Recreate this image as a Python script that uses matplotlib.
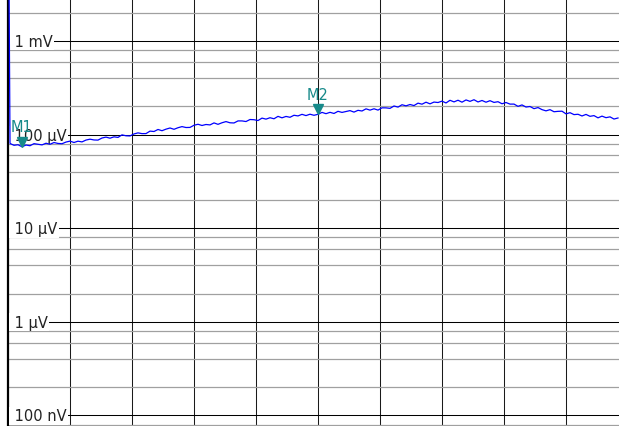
import numpy as np
import matplotlib.pyplot as plt
import matplotlib.transforms as mtransforms
from matplotlib.ticker import LogLocator, NullFormatter

# sweep trace in uV (first sample is off the top of the screen)
start_uv = 10000.0
trace_uv = [
    80.5, 76.9, 78.0, 74.2, 77.4, 76.1, 80.1, 78.9, 77.7, 80.9,
    78.9, 82.3, 80.5, 79.9, 83.3, 85.2, 82.4, 85.1, 83.6, 87.5,
    89.4, 87.7, 87.4, 92.0, 94.1, 91.6, 94.7, 93.4, 99.4, 97.2,
    96.8, 101.7, 104.4, 102.5, 102.6, 109.0, 108.0, 113.5, 110.1, 114.4,
    117.7, 114.0, 118.5, 121.8, 119.1, 119.4, 125.9, 129.0, 125.2, 128.3,
    127.0, 133.4, 128.8, 133.9, 137.8, 133.8, 133.2, 140.1, 140.1, 138.0,
    145.0, 144.3, 141.4, 150.1, 146.4, 151.5, 147.7, 156.7, 151.2, 156.4,
    153.2, 161.0, 158.4, 164.7, 159.7, 165.2, 160.9, 164.8, 172.8, 167.4,
    173.0, 168.3, 177.4, 172.7, 176.6, 180.5, 174.0, 181.8, 178.8, 188.5,
    182.7, 188.8, 182.8, 193.3, 193.1, 190.8, 202.2, 196.8, 208.5, 203.0,
    209.7, 204.4, 216.9, 211.4, 222.0, 213.2, 222.7, 220.3, 227.9, 217.9,
    232.7, 223.7, 233.0, 222.1, 234.7, 226.7, 235.9, 223.3, 231.6, 222.0,
    230.4, 220.9, 224.7, 213.6, 220.3, 211.8, 211.9, 200.5, 207.6, 197.1,
    199.7, 189.4, 194.6, 184.9, 179.4, 184.8, 175.6, 177.3, 177.9, 166.6,
    171.5, 163.6, 165.0, 158.2, 164.4, 156.9, 159.6, 151.1, 157.6, 151.7,
    154.8, 146.7, 150.6,
]
marker_names = ['M1', 'M2']
marker_idx = [3, 77]

level_vals = [1e-3, 1e-4, 1e-5, 1e-6, 1e-7]
level_text = ['1 mV', '100 µV', '10 µV', '1 µV', '100 nV']

TEAL = '#178a8a'

fig = plt.figure(figsize=(6.19, 4.27), dpi=100)
ax = fig.add_axes([8 / 619, 0, 620 / 619, 1])

# 10 horizontal divisions, sweep starts just right of the left edge
sweep = np.linspace(2 / 62, 610 / 62, len(trace_uv))
xs = np.concatenate([[0.8 / 62], sweep])
ys = np.array([start_uv] + trace_uv) * 1e-6

ax.set_yscale('log')
ax.set_xlim(0, 10)
ax.set_ylim(7.72e-8, 2.81e-3)

ax.set_xticks(np.arange(1, 10))
ax.yaxis.set_major_locator(LogLocator(base=10, numticks=20))
ax.yaxis.set_minor_locator(LogLocator(base=10, subs=[2, 4, 6, 8], numticks=20))
ax.yaxis.set_minor_formatter(NullFormatter())
ax.tick_params(which='both', length=0, labelleft=False, labelbottom=False)

ax.set_axisbelow(True)
ax.grid(axis='x', color='#1a1a1a', lw=0.75)
ax.grid(axis='y', which='major', color='black', lw=0.75)
ax.grid(axis='y', which='minor', color='#a0a0a0', lw=0.9)

for s in ['top', 'right', 'bottom']:
    ax.spines[s].set_visible(False)
ax.spines['left'].set_color('black')
ax.spines['left'].set_linewidth(1.6)

# level labels sit on the screen, boxed in white from the left edge
for v, t in zip(level_vals, level_text):
    ax.annotate(' ' + t, xy=(2 / 620, v), xycoords=('axes fraction', 'data'),
                xytext=(0, -3.6), textcoords='offset points',
                ha='left', va='baseline', fontsize=10.5, color='#222222',
                bbox=dict(boxstyle='square,pad=0.1', fc='white', ec='none'),
                zorder=3)

ax.plot(xs, ys, color='#0000ff', lw=0.9, zorder=4)

# markers: triangle tip sits on the trace
tri_tf = mtransforms.offset_copy(ax.transData, fig=fig, x=0, y=3.6, units='points')
for name, i in zip(marker_names, marker_idx):
    ax.plot(sweep[i], trace_uv[i] * 1e-6, marker='v', ms=7.4, color=TEAL,
            mec=TEAL, transform=tri_tf, zorder=5, clip_on=False)
    ax.annotate(name, xy=(sweep[i], trace_uv[i] * 1e-6), xytext=(0, 11.2),
                textcoords='offset points', ha='center', va='baseline',
                fontsize=10.5, color=TEAL, zorder=6)

fig.savefig('out.png', dpi=100)
